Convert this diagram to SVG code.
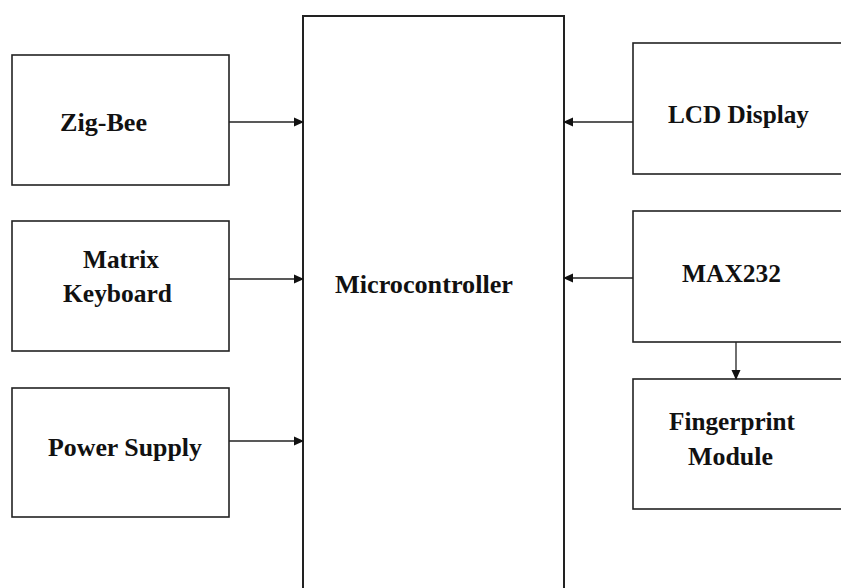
<svg xmlns="http://www.w3.org/2000/svg" width="841" height="588" viewBox="0 0 841 588">
<style>
.box{fill:#fff;stroke:#222;stroke-width:1.6}
.lbl{font-family:"Liberation Serif","Times New Roman",serif;font-weight:bold;font-size:25px;fill:#111}
.con{stroke:#222;stroke-width:1.3;fill:none}
</style>
<defs>
<marker id="ah" markerWidth="10" markerHeight="10" refX="9" refY="5" orient="auto" markerUnits="userSpaceOnUse">
<path d="M0,0.5 L10,5 L0,9.5 Z" fill="#111"/>
</marker>
</defs>
<rect width="841" height="588" fill="#fff"/>
<g id="microcontroller">
<rect class="box" x="303" y="16" width="261" height="590" style="stroke-width:2"/>
<text class="lbl" x="335" y="293" textLength="178" lengthAdjust="spacingAndGlyphs">Microcontroller</text>
</g>
<g id="zigbee">
<rect class="box" x="12" y="55" width="217" height="130"/>
<text class="lbl" x="60" y="131" textLength="87" lengthAdjust="spacingAndGlyphs">Zig-Bee</text>
</g>
<g id="matrix-keyboard">
<rect class="box" x="12" y="221" width="217" height="130"/>
<text class="lbl" x="83" y="268" textLength="76" lengthAdjust="spacingAndGlyphs">Matrix</text>
<text class="lbl" x="63" y="302" textLength="109" lengthAdjust="spacingAndGlyphs">Keyboard</text>
</g>
<g id="power-supply">
<rect class="box" x="12" y="388" width="217" height="129"/>
<text class="lbl" x="48" y="456" textLength="154" lengthAdjust="spacingAndGlyphs">Power Supply</text>
</g>
<g id="lcd-display">
<rect class="box" x="633" y="43" width="220" height="131"/>
<text class="lbl" x="668" y="123" textLength="141" lengthAdjust="spacingAndGlyphs">LCD Display</text>
</g>
<g id="max232">
<rect class="box" x="633" y="211" width="220" height="131"/>
<text class="lbl" x="682" y="282" textLength="99" lengthAdjust="spacingAndGlyphs">MAX232</text>
</g>
<g id="fingerprint-module">
<rect class="box" x="633" y="379" width="220" height="130"/>
<text class="lbl" x="669" y="430" textLength="126" lengthAdjust="spacingAndGlyphs">Fingerprint</text>
<text class="lbl" x="688" y="465" textLength="85" lengthAdjust="spacingAndGlyphs">Module</text>
</g>
<g id="connectors">
<line class="con" x1="229" y1="122" x2="303" y2="122" marker-end="url(#ah)"/>
<line class="con" x1="229" y1="279" x2="303" y2="279" marker-end="url(#ah)"/>
<line class="con" x1="229" y1="441" x2="303" y2="441" marker-end="url(#ah)"/>
<line class="con" x1="633" y1="122" x2="564" y2="122" marker-end="url(#ah)"/>
<line class="con" x1="633" y1="278" x2="564" y2="278" marker-end="url(#ah)"/>
<line class="con" x1="736" y1="342" x2="736" y2="379" marker-end="url(#ah)"/>
</g>
</svg>
